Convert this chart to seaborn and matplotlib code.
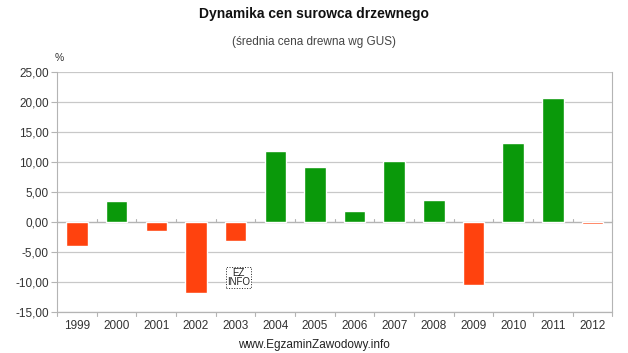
import pandas as pd
import matplotlib.pyplot as plt
import seaborn as sns
from matplotlib.ticker import FuncFormatter

years = ['1999', '2000', '2001', '2002', '2003', '2004', '2005',
         '2006', '2007', '2008', '2009', '2010', '2011', '2012']
values = [-4.0, 3.5, -1.5, -11.8, -3.2, 11.8, 9.1,
          1.8, 10.1, 3.6, -10.5, 13.2, 20.6, -0.3]

GREEN = '#0a990a'
RED = '#ff420e'

df = pd.DataFrame({'rok': years, 'zmiana': values})
colors = {y: (GREEN if v >= 0 else RED) for y, v in zip(years, values)}

sns.set_style('white')
plt.rcParams['font.family'] = ['Liberation Sans', 'DejaVu Sans']

fig = plt.figure(figsize=(6.28, 3.53), dpi=100)
ax = fig.add_axes([0.091, 0.116, 0.884, 0.68])

sns.barplot(data=df, x='rok', y='zmiana', hue='rok', palette=colors, saturation=1,
            dodge=False, legend=False, width=0.54, ax=ax, zorder=3)

ax.set_ylim(-15, 25)
ax.set_yticks(range(-15, 26, 5))
ax.yaxis.set_major_formatter(FuncFormatter(lambda v, p: f'{v:.2f}'.replace('.', ',')))
ax.set_xlim(-0.5, len(years) - 0.5)
ax.grid(axis='y', color='#c8c8c8', linewidth=0.9, zorder=0)
ax.axhline(0, color='#b4b4b4', linewidth=0.9, zorder=2)
for s in ['left', 'right']:
    ax.spines[s].set_color('#b4b4b4')
for s in ['top', 'bottom']:
    ax.spines[s].set_visible(False)

# small ticks between categories on the zero line and below the plot
for i in range(len(years) + 1):
    x = i - 0.5
    ax.plot([x, x], [0, 0.5], color='#b4b4b4', lw=0.8, zorder=2, clip_on=False)
    ax.plot([x, x], [-15, -15.6], color='#b4b4b4', lw=0.8, clip_on=False)
ax.plot([-0.5, len(years) - 0.5], [-15, -15], color='#b4b4b4', lw=0.9, clip_on=False)

ax.tick_params(axis='y', length=4, color='#b4b4b4', labelsize=8.5, labelcolor='#333333', pad=2, left=True)
ax.tick_params(axis='x', length=0, labelsize=8.5, labelcolor='#333333', pad=6)
ax.set_xlabel('')
ax.set_ylabel('')

fig.text(0.5, 0.96, 'Dynamika cen surowca drzewnego', ha='center', va='center',
         fontsize=10, fontweight='bold', color='#111111')
fig.text(0.5, 0.88, '(średnia cena drewna wg GUS)', ha='center', va='center',
         fontsize=8.5, color='#444444')
fig.text(0.095, 0.835, '%', ha='center', va='center', fontsize=7.5, color='#333333')

# EZ INFO logo
ax.text(4.07, -9.3, 'EZ\nINFO', ha='center', va='center', fontsize=7, color='#222222',
        linespacing=0.85, zorder=4,
        bbox=dict(boxstyle='square,pad=0.1', fc='white', ec='#222222', ls=':', lw=0.7))

fig.text(0.5, 0.022, 'www.EgzaminZawodowy.info', ha='center', va='center',
         fontsize=8.5, color='#222222')

fig.savefig('out.png', dpi=100)
